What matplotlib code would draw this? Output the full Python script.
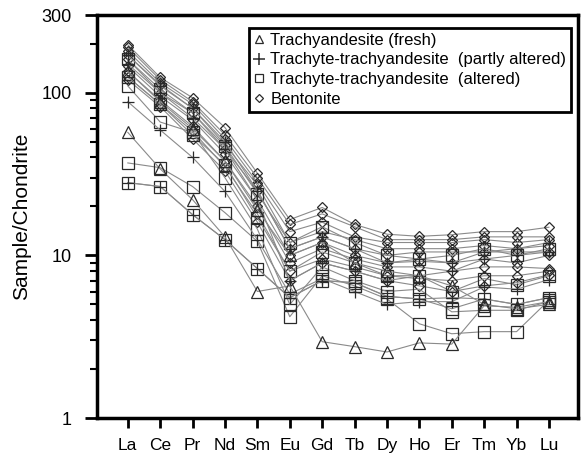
import numpy as np
import matplotlib
matplotlib.use("Agg")
import matplotlib.pyplot as plt
from matplotlib.lines import Line2D
from matplotlib.ticker import FixedLocator, NullFormatter

plt.rcParams['font.family'] = ['Liberation Sans', 'DejaVu Sans']

# REE elements (chondrite normalised)
elements = ["La", "Ce", "Pr", "Nd", "Sm", "Eu", "Gd", "Tb", "Dy", "Ho", "Er", "Tm", "Yb", "Lu"]

# Trachyandesite (fresh)
fresh = [
    [57, 34, 22, 13, 6.0, 6.5, 2.95, 2.75, 2.55, 2.9, 2.85, 4.9, 4.8, 5.2],
    [135, 88, 60, 38, 19, 10, 12, 9, 8, 7.5, 6.5, 5.0, 4.7, 5.0],
]

# Trachyte-trachyandesite (partly altered)
partly = [
    [88, 59, 40, 24.7, 12.5, 5.8, 7.2, 6.0, 5.0, 5.2, 5.2, 6.4, 6.2, 7.1],
    [28, 26.5, 17.8, 12.5, 8.3, 5.5, 7.0, 6.8, 5.6, 5.4, 5.5, 5.4, 5.0, 5.5],
    [150, 100, 70, 45, 22, 7, 9, 8, 7, 7.5, 8, 9.5, 10, 10.5],
    [170, 110, 80, 50, 25, 11, 13, 11, 9, 9.5, 9, 10.5, 11, 12],
]

# Trachyte-trachyandesite (altered)
altered = [
    [37, 34.6, 26.5, 18.3, 12.2, 4.2, 7.5, 6.5, 5.4, 3.8, 3.3, 3.4, 3.4, 5.3],
    [28, 26.5, 17.8, 12.5, 8.3, 5.5, 7.0, 6.8, 5.6, 5.4, 4.7, 5.4, 5.0, 5.5],
    [110, 66, 57, 30, 14.5, 5.0, 8.5, 7.0, 6.0, 6.2, 4.5, 4.6, 4.6, 5.2],
    [125, 85, 55, 36, 17, 8, 10.5, 9, 7.5, 7.5, 6.0, 7.2, 6.6, 7.5],
    [160, 105, 75, 47, 24, 12, 15, 12, 10, 9.5, 10, 11, 10, 11],
]

# Bentonite
bentonite = [
    [197, 124, 93, 61, 32, 16.6, 19.7, 15.5, 13.5, 13.1, 13.4, 14, 14, 14.9],
    [190, 120, 88, 55, 30, 15.5, 18, 15, 12.5, 12.5, 12.5, 13, 13, 13],
    [180, 115, 85, 52, 28, 14, 16, 13, 12, 12, 12, 12.5, 12, 12.5],
    [170, 112, 80, 48, 27, 12, 14, 12.5, 11, 11, 11, 11.5, 11, 11.5],
    [160, 100, 75, 45, 25, 11, 13, 11, 10, 10.5, 10.5, 10.5, 10.5, 10.5],
    [145, 95, 68, 42, 22, 10, 12, 10, 9, 9.2, 9, 9.5, 9, 10],
    [135, 90, 62, 38, 20, 9, 11, 9.5, 8.5, 8.5, 8, 8.5, 8.5, 8.3],
    [125, 85, 58, 35, 18, 8, 9.5, 8.5, 7.5, 7.2, 7, 7.5, 7.5, 8],
    [120, 82, 52, 33, 16, 7, 9, 8, 7, 6.5, 6.0, 6.5, 6.8, 7.6],
]

labels = ["Trachyandesite (fresh)",
          "Trachyte-trachyandesite  (partly altered)",
          "Trachyte-trachyandesite  (altered)",
          "Bentonite"]

x = np.arange(1, len(elements) + 1)
line_col = "#8a8a8a"
edge_col = "#2a2a2a"

fig = plt.figure(figsize=(5.81, 4.55), dpi=100)
ax = fig.add_axes([0.167, 0.081, 0.828, 0.886])

groups = [(bentonite, "D", 5.5), (altered, "s", 8.5), (partly, "+", 9), (fresh, "^", 8)]
for data, mk, ms in groups:
    for row in data:
        ax.plot(x, row, color=line_col, lw=0.8, marker=mk, ms=ms,
                mfc="none", mec=edge_col, mew=0.9)

ax.set_yscale("log")
ax.set_ylim(1, 300)
ax.set_xlim(0.05, 14.9)
ax.set_xticks(x)
ax.set_xticklabels(elements, fontsize=12.5)
ax.yaxis.set_major_locator(FixedLocator([1, 10, 100, 300]))
ax.set_yticklabels(["1", "10", "100", "300"], fontsize=13)
minors = [v * d for d in (1, 10) for v in range(2, 10)] + [200]
ax.yaxis.set_minor_locator(FixedLocator(minors))
ax.yaxis.set_minor_formatter(NullFormatter())
ax.tick_params(axis="y", which="major", length=9, width=2, pad=9)
ax.tick_params(axis="y", which="minor", length=5, width=1.5)
ax.tick_params(axis="x", which="major", length=7, width=2, pad=7)
for s in ax.spines.values():
    s.set_linewidth(2.5)
ax.set_ylabel("Sample/Chondrite", fontsize=15, labelpad=8)

handles = [
    Line2D([], [], ls="none", marker="^", ms=6, mfc="none", mec=edge_col, mew=0.9),
    Line2D([], [], ls="none", marker="+", ms=8, mfc="none", mec=edge_col, mew=1.1),
    Line2D([], [], ls="none", marker="s", ms=6, mfc="none", mec=edge_col, mew=0.9),
    Line2D([], [], ls="none", marker="D", ms=4, mfc="none", mec=edge_col, mew=0.9),
]
leg = ax.legend(handles, labels, loc="upper right", fontsize=12, fancybox=False,
                framealpha=1, edgecolor="black", handlelength=0.6, handletextpad=0.4,
                borderaxespad=0.4, labelspacing=0.28, borderpad=0.3,
                bbox_to_anchor=(1.0, 0.985))
leg.get_frame().set_linewidth(2.0)

fig.savefig("out.png", dpi=100)
